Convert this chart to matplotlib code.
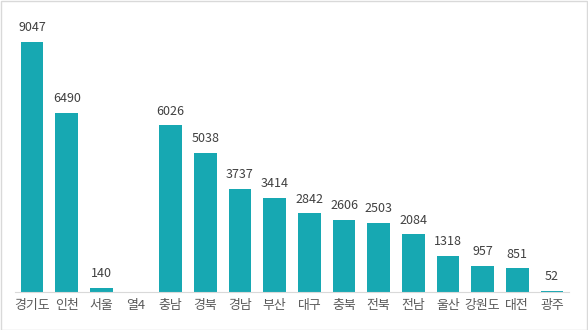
import matplotlib
matplotlib.use('Agg')
import matplotlib.pyplot as plt
from matplotlib.patches import Rectangle

plt.rcParams['font.family'] = ['Noto Sans CJK KR', 'DejaVu Sans']

# data
regions = ['경기도', '인천', '서울', '열4', '충남', '경북', '경남', '부산', '대구',
           '충북', '전북', '전남', '울산', '강원도', '대전', '광주']
counts = [9047, 6490, 140, None, 6026, 5038, 3737, 3414, 2842,
          2606, 2503, 2084, 1318, 957, 851, 52]

bar_color = '#17a8b2'

fig = plt.figure(figsize=(5.88, 3.30), dpi=100)
ax = fig.add_axes([14.7 / 588, (330 - 292) / 330, (569.3 - 14.7) / 588, (292 - 14) / 330])

x = list(range(len(regions)))
heights = [c if c is not None else 0 for c in counts]
ax.bar(x, heights, width=0.66, color=bar_color, zorder=2)

# value labels
for xi, c in zip(x, counts):
    if c is None:
        continue
    ax.text(xi, c + 280, str(c), ha='center', va='bottom', fontsize=9, color='#404040')

ax.set_xlim(-0.5, len(regions) - 0.5)
ax.set_ylim(0, 9047 * 278 / 250)
ax.set_xticks(x)
ax.set_xticklabels(regions, fontsize=9.3, color='#595959')
ax.tick_params(axis='x', length=0, pad=5)
ax.set_yticks([])
for s in ['top', 'right', 'left']:
    ax.spines[s].set_visible(False)
ax.spines['bottom'].set_color('#d9d9d9')
ax.spines['bottom'].set_linewidth(0.8)

# outer border
fig.patches.append(Rectangle((0.5 / 588, 0.5 / 330), 1 - 1.5 / 588, 1 - 1.5 / 330,
                             transform=fig.transFigure, fill=False,
                             edgecolor='#d9d9d9', linewidth=1))

fig.savefig('out.png', dpi=100)
